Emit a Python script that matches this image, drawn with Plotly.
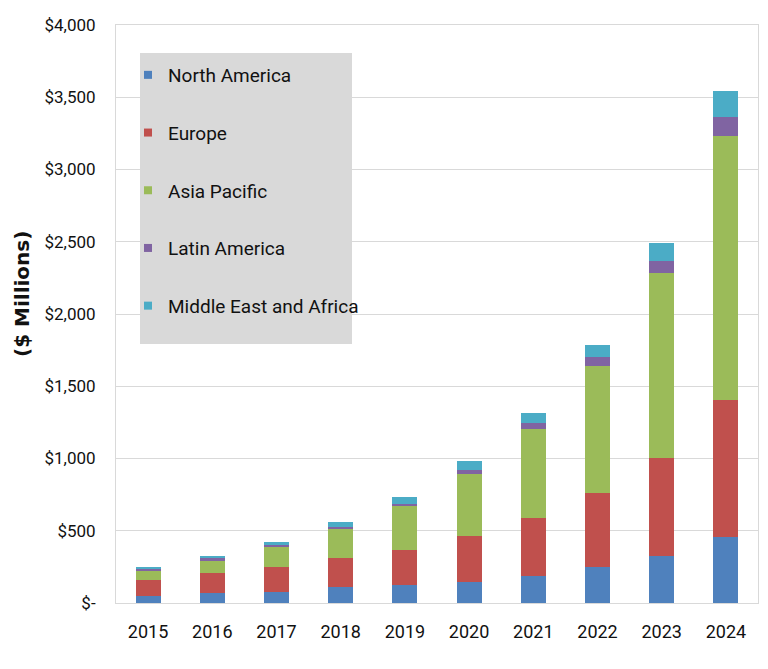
import plotly.graph_objects as go

years = ["2015", "2016", "2017", "2018", "2019", "2020", "2021", "2022", "2023", "2024"]
north_america = [48, 67, 78, 108, 125, 143, 190, 247, 322, 459]
europe = [111, 138, 173, 201, 242, 323, 396, 516, 684, 946]
asia_pacific = [65, 88, 139, 201, 304, 426, 616, 877, 1280, 1829]
latin_america = [17, 16, 11, 18, 14, 28, 42, 60, 83, 131]
mea = [9, 18, 23, 30, 51, 65, 73, 85, 121, 178]

series_names = ["North America", "Europe", "Asia Pacific", "Latin America", "Middle East and Africa"]
series_values = [north_america, europe, asia_pacific, latin_america, mea]
colors = ["#4F81BD", "#C0504D", "#9BBB59", "#8064A2", "#4BACC6"]

tick_vals = [0, 500, 1000, 1500, 2000, 2500, 3000, 3500, 4000]
tick_text = ["$-", "$500", "$1,000", "$1,500", "$2,000", "$2,500", "$3,000", "$3,500", "$4,000"]

FONT = "Roboto, Liberation Sans, sans-serif"

fig = go.Figure()
for name, vals, col in zip(series_names, series_values, colors):
    fig.add_trace(go.Bar(x=years, y=vals, name=name, marker=dict(color=col, line=dict(width=0)),
                         showlegend=False))
for name, col in zip(series_names, colors):
    fig.add_trace(go.Scatter(x=[None], y=[None], mode="markers", name=name, legendgroup=name,
                             marker=dict(symbol="square", size=8, color=col)))

# the page places the figure 8px from the window's top-left corner
OFF = 8
W, H = 768 - OFF, 669 - OFF
L, T = 116 - OFF, 25 - OFF
PLOT_RIGHT, PLOT_BOTTOM = 758 - OFF, 603 - OFF
R, B = W - PLOT_RIGHT, H - PLOT_BOTTOM
pw, ph = PLOT_RIGHT - L, PLOT_BOTTOM - T

def px(xp):
    return (xp - OFF - L) / pw

def py(yp):
    return (PLOT_BOTTOM - (yp - OFF)) / ph

fig.update_layout(
    width=W, height=H,
    margin=dict(l=L, r=R, t=T, b=B, autoexpand=False),
    barmode="stack",
    bargap=0.61,
    paper_bgcolor="white",
    plot_bgcolor="white",
    font=dict(family=FONT, color="#111111"),
    legend=dict(
        x=px(128), y=py(56), xanchor="left", yanchor="top",
        bgcolor="rgba(0,0,0,0)",
        font=dict(family=FONT, size=19, color="#111111"),
        tracegroupgap=30,
        traceorder="grouped",
        itemwidth=30,
    ),
    shapes=[dict(type="rect", xref="paper", yref="paper",
                 x0=px(140), x1=px(352), y0=py(344), y1=py(53),
                 fillcolor="#D9D9D9", line=dict(width=0), layer="above")],
    annotations=[dict(text="<b>($ Millions)</b>", textangle=-90, showarrow=False,
                      xref="paper", yref="paper", x=px(22), y=py(294),
                      xanchor="center", yanchor="middle",
                      font=dict(family="DejaVu Sans, sans-serif", size=20, color="#111111"))],
    xaxis=dict(
        type="category",
        automargin=False,
        showgrid=False,
        showline=True, linecolor="#D9D9D9", linewidth=1, mirror=True,
        ticks="outside", ticklen=12, tickcolor="rgba(0,0,0,0)",
        tickfont=dict(family=FONT, size=18, color="#111111"),
    ),
    yaxis=dict(
        automargin=False,
        range=[0, 4000],
        tickvals=tick_vals, ticktext=tick_text,
        showgrid=True, gridcolor="#D9D9D9", gridwidth=1,
        showline=True, linecolor="#D9D9D9", linewidth=1, mirror=True,
        zeroline=False,
        ticks="outside", ticklen=16, tickcolor="rgba(0,0,0,0)",
        tickfont=dict(family=FONT, size=17, color="#111111"),
    ),
)

fig.write_html("out.html")
